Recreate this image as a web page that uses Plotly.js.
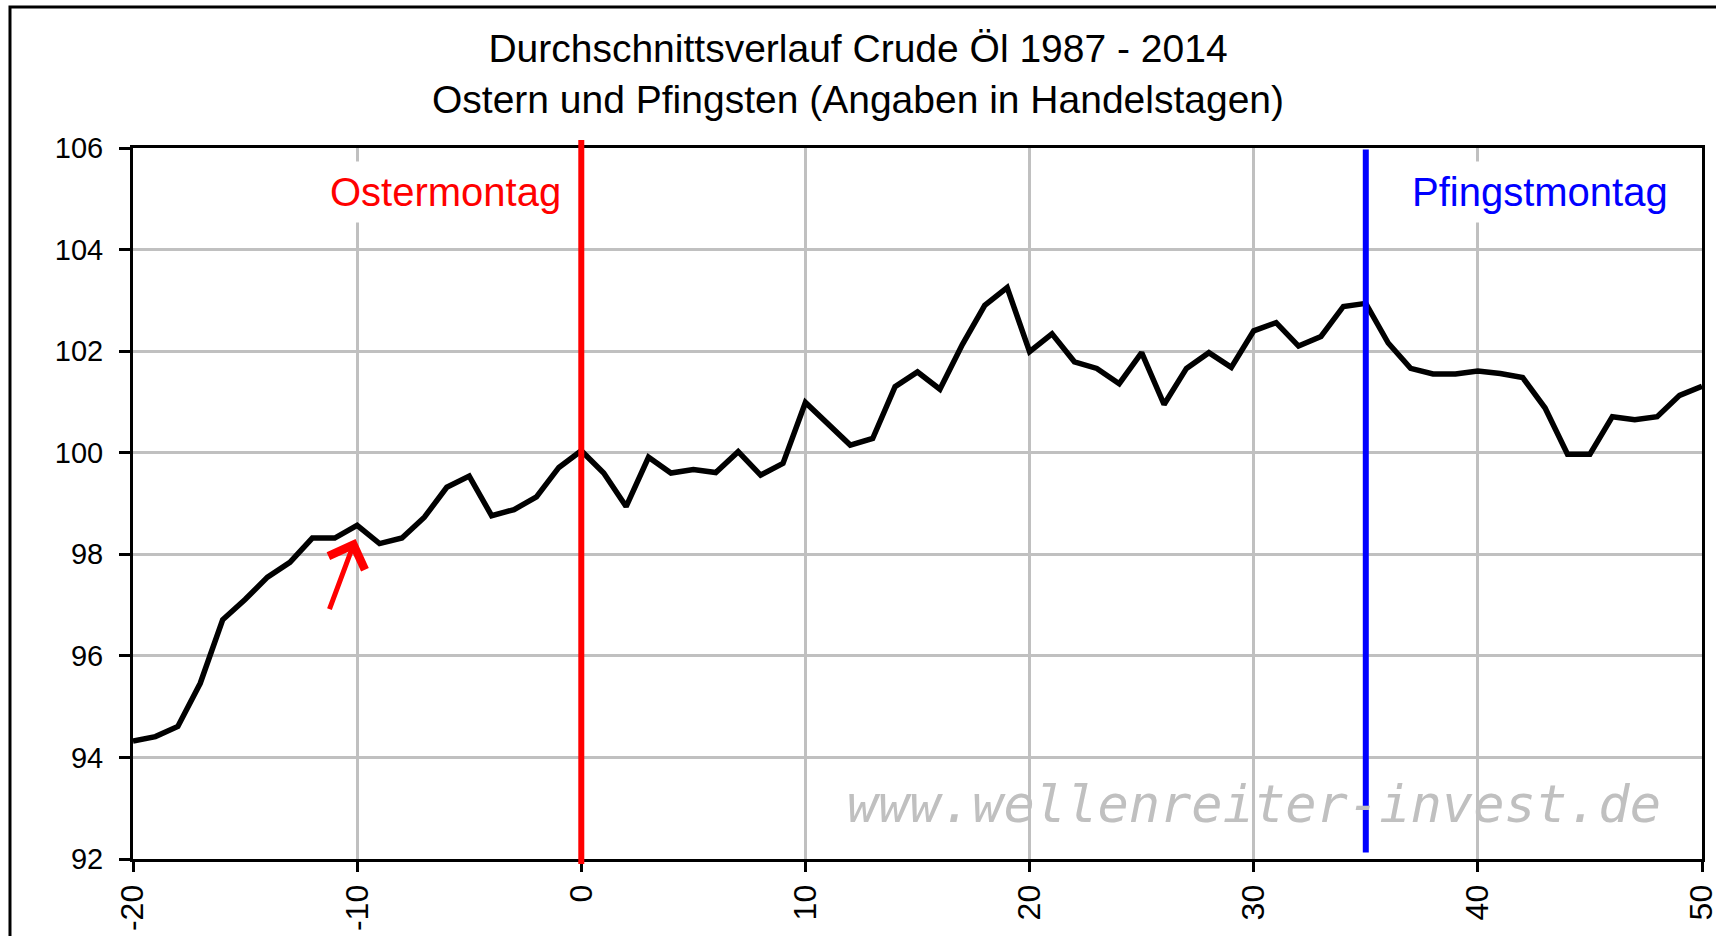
<!DOCTYPE html>
<html>
<head>
<meta charset="utf-8">
<script src="https://cdn.plot.ly/plotly-3.0.1.min.js"></script>
<style>
  html, body { margin: 0; padding: 0; background: #ffffff; }
  #chart { width: 1716px; height: 936px; }
</style>
</head>
<body>
<div id="chart"></div>
<script>
// Trading days relative to Easter Monday
const days = [-20, -19, -18, -17, -16, -15, -14, -13, -12, -11,
              -10, -9, -8, -7, -6, -5, -4, -3, -2, -1,
              0, 1, 2, 3, 4, 5, 6, 7, 8, 9,
              10, 11, 12, 13, 14, 15, 16, 17, 18, 19,
              20, 21, 22, 23, 24, 25, 26, 27, 28, 29,
              30, 31, 32, 33, 34, 35, 36, 37, 38, 39,
              40, 41, 42, 43, 44, 45, 46, 47, 48, 49, 50];

// Average course of crude oil (indexed, Easter Monday = 100)
const avgCourse = [94.32, 94.41, 94.61, 95.46, 96.71, 97.11, 97.55, 97.84, 98.32, 98.32,
                   98.57, 98.21, 98.32, 98.73, 99.32, 99.54, 98.76, 98.88, 99.13, 99.71,
                   100.04, 99.60, 98.94, 99.91, 99.60, 99.67, 99.61, 100.02, 99.56, 99.79,
                   100.99, 100.58, 100.15, 100.28, 101.30, 101.59, 101.25, 102.13, 102.90, 103.25,
                   101.99, 102.34, 101.79, 101.66, 101.36, 101.97, 100.95, 101.66, 101.97, 101.68,
                   102.40, 102.56, 102.10, 102.29, 102.88, 102.94, 102.16, 101.66, 101.55, 101.55,
                   101.61, 101.56, 101.48, 100.88, 99.97, 99.97, 100.71, 100.65, 100.71, 101.13, 101.31];

const xTickVals = [-20, -10, 0, 10, 20, 30, 40, 50];
const yTickVals = [92, 94, 96, 98, 100, 102, 104, 106];

const easterDay = 0;
const pentecostDay = 35;

const titleText = 'Durchschnittsverlauf Crude Öl 1987 - 2014<br>Ostern und Pfingsten (Angaben in Handelstagen)';
const easterLabel = 'Ostermontag';
const pentecostLabel = 'Pfingstmontag';
const watermark = 'www.wellenreiter-invest.de';

const FONT = 'Liberation Sans, Arial, sans-serif';

const trace = {
  x: days,
  y: avgCourse,
  type: 'scatter',
  mode: 'lines',
  line: { color: '#000000', width: 5.5 },
  hoverinfo: 'x+y',
  showlegend: false
};

const layout = {
  width: 1716,
  height: 936,
  paper_bgcolor: '#ffffff',
  plot_bgcolor: '#ffffff',
  margin: { l: 133, r: 14, t: 148, b: 77, pad: 0 },
  showlegend: false,
  title: {
    text: titleText,
    font: { family: FONT, size: 39, color: '#000000' },
    xref: 'container', x: 0.5, xanchor: 'center',
    yref: 'container', y: 0.9336, yanchor: 'top'
  },
  xaxis: {
    range: [-20, 50],
    tickvals: xTickVals,
    ticktext: xTickVals.map(String),
    tickangle: -90,
    tickfont: { family: FONT, size: 32, color: '#000000' },
    ticks: 'outside', ticklen: 10, tickwidth: 3, tickcolor: '#000000',
    ticklabeloverflow: 'allow',
    showgrid: true, gridcolor: '#c0c0c0', gridwidth: 3,
    showline: true, linecolor: '#000000', linewidth: 3, mirror: true,
    zeroline: false, fixedrange: true
  },
  yaxis: {
    range: [92, 106],
    tickvals: yTickVals,
    ticktext: yTickVals.map(String),
    tickfont: { family: FONT, size: 29, color: '#000000' },
    ticks: 'outside', ticklen: 11, tickwidth: 3, tickcolor: '#000000',
    ticklabelstandoff: 10,
    showgrid: true, gridcolor: '#c0c0c0', gridwidth: 3,
    showline: true, linecolor: '#000000', linewidth: 3, mirror: true,
    zeroline: false, fixedrange: true
  },
  shapes: [
    // outer frame of the chart
    { type: 'rect', xref: 'paper', yref: 'paper', x0: -0.0784, x1: 1.08, y0: -0.2, y1: 1.1983,
      line: { color: '#000000', width: 3 }, fillcolor: 'rgba(0,0,0,0)', layer: 'above' },
    // Easter Monday marker
    { type: 'line', xref: 'x', yref: 'paper', x0: easterDay, x1: easterDay, y0: -0.007, y1: 1.0113,
      line: { color: '#ff0000', width: 6 }, layer: 'above' },
    // Whit Monday marker
    { type: 'line', xref: 'x', yref: 'paper', x0: pentecostDay, x1: pentecostDay, y0: 0.009, y1: 0.998,
      line: { color: '#0000ff', width: 6 }, layer: 'above' }
  ],
  annotations: [
    { text: watermark, xref: 'x', yref: 'y', x: 48.27, y: 93.08, xanchor: 'right', yanchor: 'middle',
      showarrow: false, font: { family: 'DejaVu Sans Mono, monospace', size: 52, color: '#c0c0c0', style: 'italic' } },
    { text: easterLabel, xref: 'x', yref: 'y', x: -0.5, y: 105.14, xanchor: 'right', yanchor: 'middle',
      showarrow: false, bgcolor: '#ffffff', borderpad: 8,
      font: { family: FONT, size: 40, color: '#ff0000' } },
    { text: pentecostLabel, xref: 'x', yref: 'y', x: 36.65, y: 105.14, xanchor: 'left', yanchor: 'middle',
      showarrow: false, bgcolor: '#ffffff', borderpad: 8,
      font: { family: FONT, size: 40, color: '#0000ff' } },
    // red arrow pointing at day -10
    { text: '', xref: 'x', yref: 'y', x: -10.07, y: 98.30, axref: 'x', ayref: 'y', ax: -11.26, ay: 96.89,
      showarrow: true, arrowhead: 4, arrowsize: 1.5, arrowwidth: 5, arrowcolor: '#ff0000', standoff: 0 }
  ]
};

Plotly.newPlot('chart', [trace], layout, { staticPlot: true, displayModeBar: false });
</script>
</body>
</html>
